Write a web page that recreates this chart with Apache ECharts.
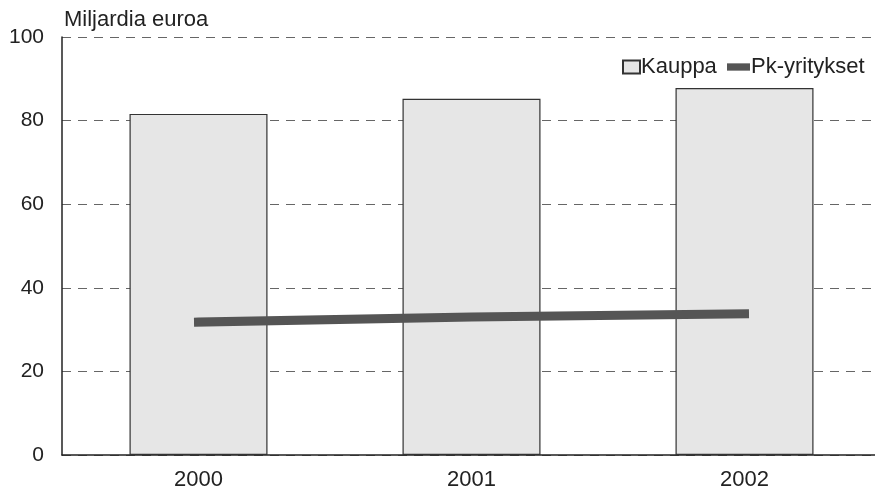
<!DOCTYPE html>
<html>
<head>
<meta charset="utf-8">
<script src="https://cdn.jsdelivr.net/npm/echarts@6/dist/echarts.min.js"></script>
<style>
  html, body { margin: 0; padding: 0; background: #fff; }
  #main { width: 875px; height: 495px; }
</style>
</head>
<body>
<div id="main"></div>
<script>
// data
const years = ["2000", "2001", "2002"];
const kauppa = [81.6, 85.2, 87.8];
const pkYritykset = [31.8, 33.0, 33.8];
const yTicks = [0, 20, 40, 60, 80, 100];

let chart = echarts.init(document.getElementById("main"));
let font = "Liberation Sans, Arial, sans-serif";
let legendText = { fontSize: 22, color: "#222", padding: [0, 0, 0, -4] };

let option = {
  animation: false,
  backgroundColor: "#fff",
  textStyle: { fontFamily: font },
  title: {
    text: "Miljardia euroa",
    left: 59,
    top: 4,
    textStyle: { fontSize: 22, fontWeight: "normal", color: "#222", fontFamily: font },
  },
  legend: [
    {
      left: 617,
      top: 51,
      itemWidth: 17,
      itemHeight: 13,
      textStyle: legendText,
      data: [{ name: "Kauppa", icon: "rect" }],
    },
    {
      left: 722,
      top: 51,
      itemWidth: 23,
      itemHeight: 13,
      textStyle: legendText,
      data: [{ name: "Pk-yritykset", icon: "path://M0,3 L22,3 L22,10 L0,10 Z" }],
    },
  ],
  grid: {
    left: 62,
    right: -6,
    top: 37,
    bottom: 40,
    outerBoundsMode: "none",
  },
  xAxis: {
    type: "category",
    data: years,
    axisLine: { lineStyle: { color: "#222", width: 1.5 } },
    axisTick: { show: false },
    axisLabel: { fontSize: 22, color: "#222", margin: 14 },
  },
  yAxis: {
    type: "value",
    min: yTicks[0],
    max: yTicks[yTicks.length - 1],
    interval: 20,
    axisLine: { show: true, lineStyle: { color: "#222", width: 1.5 } },
    axisTick: { show: false },
    axisLabel: { fontSize: 21, color: "#222", margin: 18 },
    splitLine: {
      show: true,
      lineStyle: { type: [9, 7], color: "#666", width: 1 },
    },
  },
  series: [
    {
      name: "Kauppa",
      type: "bar",
      data: kauppa,
      barWidth: 138,
      itemStyle: {
        color: "#e6e6e6",
        borderColor: "#333",
        borderWidth: 1.2,
      },
    },
    {
      name: "Pk-yritykset",
      type: "line",
      data: pkYritykset,
      symbol: "none",
      itemStyle: { color: "#555" },
      lineStyle: { color: "#555", width: 9, cap: "square" },
      z: 5,
    },
  ],
};
chart.setOption(option);
</script>
</body>
</html>
